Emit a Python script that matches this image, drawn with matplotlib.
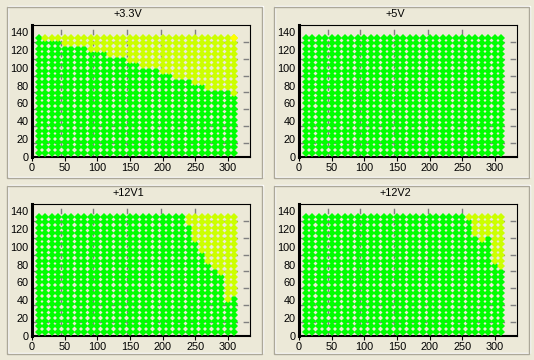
# Load test map: four rails, each a grid of load points (green = pass, yellow = out of spec)
import matplotlib.pyplot as plt
from matplotlib.patches import Rectangle

plt.rcParams['font.family'] = ['Liberation Sans', 'DejaVu Sans']
plt.rcParams['font.size'] = 7.8

# grid of load points
x_points = [10, 20, 30, 40, 50, 60, 70, 80, 90, 100, 110, 120, 130, 140, 150, 160,
            170, 180, 190, 200, 210, 220, 230, 240, 250, 260, 270, 280, 290, 300, 310]
y_points = [5.0, 11.1, 17.2, 23.4, 29.5, 35.6, 41.7, 47.8, 54.0, 60.1, 66.2,
            72.3, 78.4, 84.6, 90.7, 96.8, 102.9, 109.0, 115.2, 121.3, 127.4, 133.5]

# number of out-of-spec (yellow) points counted from the top, per x column
titles = ['+3.3V', '+5V', '+12V1', '+12V2']
fail_33v = [0, 1, 1, 1, 2, 2, 2, 2, 3, 3, 3, 4, 4, 4, 5, 5,
            6, 6, 6, 7, 7, 8, 8, 8, 9, 9, 10, 10, 10, 10, 11]
fail_5v = [0] * 31
fail_12v1 = [0] * 23 + [2, 5, 7, 9, 10, 11, 16, 15]
fail_12v2 = [0] * 25 + [1, 4, 5, 4, 9, 10]
fails = [fail_33v, fail_5v, fail_12v1, fail_12v2]
# single worst point (brighter yellow)
worst = {0: (310, 133.5)}

bg = '#ECE9D8'
green = '#00FF00'
yellow = '#CCFF00'
W, H = 534, 360

fig = plt.figure(figsize=(W / 100, H / 100), dpi=100, facecolor=bg)


def px(x0, y0, x1, y1):
    # pixel box (top-left origin) -> figure fraction rect
    return [x0 / W, 1 - y1 / H, (x1 - x0) / W, (y1 - y0) / H]


# grid lines in the original are offset from the ticks
grid_x = [44, 94, 145, 197, 249, 300]
grid_y = [16, 35, 54, 72.5, 91, 110, 129]

offsets = [(0, 0), (267, 0), (0, 179), (267, 179)]
for i, (dx, dy) in enumerate(offsets):
    # group box frame (etched look)
    fb = [7 + dx, 7 + dy, 262 + dx, 178 + dy] if i < 2 else [7 + dx, 7 + dy, 262 + dx, 175 + dy]
    for off, col in [(1, 'white'), (0, '#ACA899')]:
        r = Rectangle(((fb[0] + off), (H - fb[3] + off)), fb[2] - fb[0], fb[3] - fb[1],
                      transform=None, fill=False, edgecolor=col, linewidth=1)
        fig.add_artist(r)

    ax = fig.add_axes(px(32 + dx, 25 + dy, 250 + dx, 157 + dy), facecolor=bg)
    fc = fails[i]
    gx, gy, yx, yy = [], [], [], []
    for c, x in enumerate(x_points):
        for r_, y in enumerate(y_points):
            if r_ >= len(y_points) - fc[c]:
                yx.append(x); yy.append(y)
            else:
                gx.append(x); gy.append(y)
    mk = dict(marker='D', linestyle='none', ms=4.0, mew=0)
    ax.plot(gx, gy, color=green, zorder=3, **mk)
    ax.plot(yx, yy, color=yellow, zorder=3, **mk)
    if i in worst:
        ax.plot(*worst[i], color='#FFFF00', zorder=4, **mk)

    ax.set_xlim(0, 334)
    ax.set_ylim(0, 148)
    ax.set_xticks([0, 50, 100, 150, 200, 250, 300])
    ax.set_yticks([0, 20, 40, 60, 80, 100, 120, 140])
    ax.set_xticks(grid_x, minor=True)
    ax.set_yticks(grid_y, minor=True)
    ax.grid(which='minor', color='#808080', linestyle=(0, (4, 4)), linewidth=1, zorder=1)
    ax.tick_params(which='minor', length=0)
    ax.tick_params(axis='x', length=3, pad=1.5, colors='black')
    ax.tick_params(axis='y', length=0, pad=2.5)
    ax.spines['left'].set_linewidth(2.2)
    ax.spines['bottom'].set_linewidth(1.5)
    ax.spines['top'].set_linewidth(0.8)
    ax.spines['right'].set_linewidth(0.8)
    fig.text((128 + dx) / W, 1 - (14 + dy) / H, titles[i], ha='center', va='center')

fig.savefig('out.png', dpi=100, facecolor=bg)
